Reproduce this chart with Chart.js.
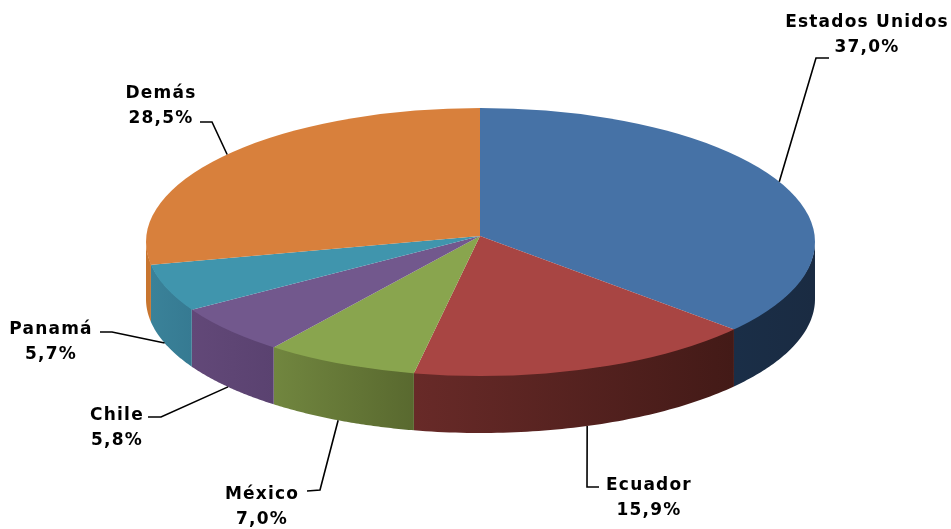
<!DOCTYPE html>
<html>
<head>
<meta charset="utf-8">
<style>
  html, body { margin: 0; background: #fff; }
  canvas { display: block; }
</style>
<script src="https://cdn.jsdelivr.net/npm/chart.js@4/dist/chart.umd.js"></script>
</head>
<body>
<canvas id="chart" width="951" height="529"></canvas>
<script>
const countries = ["Estados Unidos", "Ecuador", "México", "Chile", "Panamá", "Demás"]
const shares = [37.0, 15.9, 7.0, 5.8, 5.7, 28.5]

const topColors = ["#4672a6", "#a84543", "#89a54e", "#72588d", "#4095ad", "#d8803c"]
const wallLeft = ["#1a2e47", "#682a28", "#71863f", "#624878", "#3a8299", "#c8752f"]
const wallRight = ["#1a2b42", "#431a17", "#59692f", "#5a4270", "#367a92", "#c8752f"]

// the pie is tilted: the apex sits above the middle of the rim ellipse
const apex = { x: 480, y: 236 }
const rim = { x: 480.5, y: 242, rx: 334.5, ry: 134 }
const tilt = 0.39 // how much the slice rays are flattened around the apex
const depth = 57

// label placement, same order as countries
const labelBoxes = [
  { x: 867, y: 27, onWall: false, along: 0.488, elbow: [[816, 58], [829, 58]] },
  { x: 649, y: 490, onWall: true, along: 0.51, elbow: [[587, 487], [599, 487]] },
  { x: 262, y: 499, onWall: true, along: 0.51, elbow: [[320, 490], [307, 491]] },
  { x: 117, y: 420, onWall: true, along: 0.5, elbow: [[161, 417], [148, 417]] },
  { x: 51, y: 334, onWall: true, along: 0.54, elbow: [[112, 332], [100, 332]] },
  { x: 161, y: 98, onWall: false, along: 0.509, elbow: [[212, 122], [200, 122]] }
]

// where the ray of a slice angle leaves the rim ellipse
function rimPoint(angle) {
  const dx = Math.cos(angle) / rim.rx
  const dy = tilt * Math.sin(angle) / rim.ry
  const ox = (apex.x - rim.x) / rim.rx
  const oy = (apex.y - rim.y) / rim.ry
  const a = dx * dx + dy * dy
  const b = 2 * (ox * dx + oy * dy)
  const c = ox * ox + oy * oy - 1
  const t = (-b + Math.sqrt(b * b - 4 * a * c)) / (2 * a)
  return {
    x: apex.x + t * Math.cos(angle),
    y: apex.y + t * tilt * Math.sin(angle)
  }
}

function drawWalls(ctx, arcs) {
  const full = Math.PI * 2
  // the wall shows between the left and right extremes of the rim
  const wallFrom = Math.atan2((rim.y - apex.y) / tilt, rim.rx)
  const wallTo = Math.PI - wallFrom

  arcs.forEach((arc, i) => {
    let from = arc.startAngle
    let to = arc.endAngle
    if (from < wallFrom && to > wallFrom) from = wallFrom
    if (from >= full) { from -= full; to -= full }
    if (to > wallTo) to = wallTo
    if (from >= to || from < 0) return

    const steps = 60
    const a = rimPoint(from)
    const b = rimPoint(to)
    const grad = ctx.createLinearGradient(Math.min(a.x, b.x), 0, Math.max(a.x, b.x), 0)
    grad.addColorStop(0, wallLeft[i])
    grad.addColorStop(1, wallRight[i])

    ctx.beginPath()
    for (let n = 0; n <= steps; n++) {
      const p = rimPoint(from + (to - from) * n / steps)
      if (n === 0) ctx.moveTo(p.x, p.y - 1)
      else ctx.lineTo(p.x, p.y - 1)
    }
    for (let n = steps; n >= 0; n--) {
      const p = rimPoint(from + (to - from) * n / steps)
      ctx.lineTo(p.x, p.y + depth)
    }
    ctx.closePath()
    ctx.fillStyle = grad
    ctx.fill()
  })
}

const tiltedPie = {
  id: "tiltedPie",
  beforeDatasetsDraw(chart) {
    const ctx = chart.ctx
    const arcs = chart.getDatasetMeta(0).data

    drawWalls(ctx, arcs)

    // the chart draws its arcs oversized and flattened, cut back to the rim
    ctx.save()
    ctx.beginPath()
    ctx.ellipse(rim.x, rim.y, rim.rx, rim.ry, 0, 0, Math.PI * 2)
    ctx.clip()
    const s = 400 / arcs[0].outerRadius
    ctx.translate(apex.x, apex.y)
    ctx.scale(s, s * tilt)
    ctx.translate(-arcs[0].x, -arcs[0].y)
  },
  afterDatasetsDraw(chart) {
    chart.ctx.restore()
  },
  afterDraw(chart) {
    const ctx = chart.ctx
    const arcs = chart.getDatasetMeta(0).data

    arcs.forEach((arc, i) => {
      const box = labelBoxes[i]
      const p = rimPoint(arc.startAngle + (arc.endAngle - arc.startAngle) * box.along)

      ctx.beginPath()
      ctx.moveTo(p.x, p.y + (box.onWall ? depth : 0))
      box.elbow.forEach(pt => ctx.lineTo(pt[0], pt[1]))
      ctx.strokeStyle = "#000"
      ctx.lineWidth = 1.6
      ctx.stroke()

      ctx.fillStyle = "#000"
      ctx.font = "bold 17px 'DejaVu Sans'"
      ctx.letterSpacing = "1.2px"
      ctx.textAlign = "center"
      ctx.textBaseline = "alphabetic"
      ctx.fillText(countries[i], box.x, box.y)
      ctx.fillText(shares[i].toFixed(1).replace(".", ",") + "%", box.x, box.y + 25)
    })
  }
}

new Chart(document.getElementById("chart"), {
  type: "pie",
  data: {
    labels: countries,
    datasets: [{
      data: shares,
      backgroundColor: topColors,
      borderWidth: 0
    }]
  },
  options: {
    responsive: false,
    animation: false,
    events: [],
    plugins: {
      legend: { display: false },
      tooltip: { enabled: false }
    }
  },
  plugins: [tiltedPie]
})
</script>
</body>
</html>
